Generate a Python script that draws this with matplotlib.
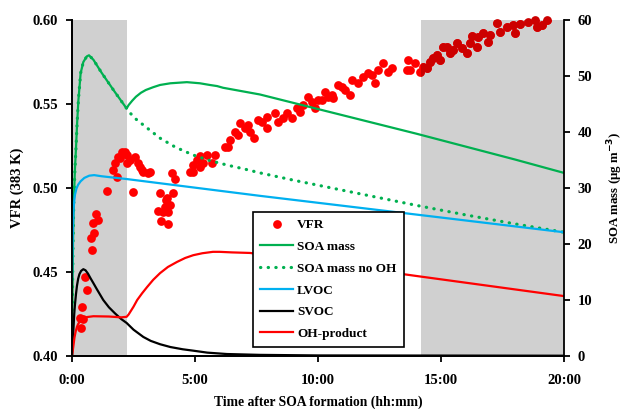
import numpy as np
import matplotlib
matplotlib.use('Agg')
from matplotlib import pyplot as plt
from matplotlib.patches import Rectangle
from matplotlib.ticker import MultipleLocator, FuncFormatter

plt.rcParams['font.family'] = ['Liberation Serif', 'DejaVu Serif']
plt.rcParams['font.weight'] = 'bold'

# shaded periods (hours)
shade = [(0.0, 2.22), (14.2, 20.0)]

# VFR measurements (left axis)
vfr_t = [0.35, 0.33, 0.46, 0.39, 0.60, 0.53, 0.83, 0.76, 0.91, 0.87, 1.07, 0.98, 1.41, 2.47,
         1.75, 1.88, 2.02, 2.15, 2.22, 1.95, 2.36, 2.56, 2.70, 2.83, 2.90, 3.10, 3.17, 2.76, 1.68, 1.82, 2.22,
         3.58, 4.11, 3.86, 3.82, 3.50, 3.70, 3.90, 3.98, 3.78, 3.62, 3.90, 4.07, 4.19,
         4.80, 4.93, 5.07, 5.20, 5.48, 5.81, 5.34, 5.68, 4.92, 5.20,
         6.22, 6.34, 6.63, 6.83, 7.03, 7.24, 7.40, 7.56, 7.93, 7.93, 8.25, 8.37, 8.74, 8.94, 9.15, 9.39,
         9.59, 9.76, 9.88, 10.16, 10.28, 10.57, 6.42, 6.75, 7.15, 7.72, 8.58, 9.27, 10.00, 10.41,
         10.61, 10.81, 11.10, 11.30, 11.38, 11.63, 11.83, 12.03, 12.32, 12.44, 12.64, 13.01, 10.98, 12.20, 12.85,
         13.62, 13.66, 13.74, 13.94, 14.15, 14.27, 14.43, 14.55, 14.67, 14.84, 14.96, 15.08, 15.24, 15.37,
         15.49, 15.65, 15.85, 16.06, 16.18, 16.26, 16.46, 16.50, 16.71, 16.91, 16.99, 17.28, 17.40, 17.68,
         17.93, 18.01, 18.21, 18.54, 18.82, 18.90, 19.11, 19.31]
vfr_v = [0.4165, 0.4224, 0.4218, 0.4293, 0.4393, 0.4472, 0.4631, 0.4701, 0.4734, 0.4793, 0.4810, 0.4843, 0.4982, 0.4978,
         0.5147, 0.5186, 0.5216, 0.5216, 0.5196, 0.5177, 0.5167, 0.5186, 0.5147, 0.5107, 0.5097, 0.5088, 0.5097, 0.5127, 0.5107, 0.5067, 0.5147,
         0.4970, 0.4970, 0.4940, 0.4929, 0.4863, 0.4857, 0.4857, 0.4899, 0.4887, 0.4804, 0.4786, 0.5088, 0.5054,
         0.5097, 0.5137, 0.5167, 0.5190, 0.5196, 0.5196, 0.5147, 0.5147, 0.5097, 0.5127,
         0.5244, 0.5244, 0.5333, 0.5387, 0.5357, 0.5333, 0.5298, 0.5405, 0.5423, 0.5357, 0.5446, 0.5393, 0.5446, 0.5417, 0.5476, 0.5494,
         0.5542, 0.5512, 0.5476, 0.5524, 0.5571, 0.5554, 0.5286, 0.5315, 0.5375, 0.5393, 0.5417, 0.5452, 0.5524, 0.5542,
         0.5536, 0.5613, 0.5583, 0.5554, 0.5643, 0.5625, 0.5661, 0.5685, 0.5625, 0.5702, 0.5744, 0.5714, 0.5601, 0.5673, 0.5690,
         0.5702, 0.5762, 0.5702, 0.5744, 0.5690, 0.5720, 0.5714, 0.5750, 0.5774, 0.5792, 0.5762, 0.5839, 0.5839, 0.5804,
         0.5821, 0.5863, 0.5833, 0.5804, 0.5863, 0.5905, 0.5839, 0.5899, 0.5923, 0.5869, 0.5911, 0.5982, 0.5929, 0.5958,
         0.5970, 0.5923, 0.5976, 0.5988, 0.6000, 0.5958, 0.5970, 0.6000]

# model curves (right axis, ug m-3)
soa_t = [0, 0.02, 0.04, 0.06, 0.08, 0.12, 0.16, 0.21, 0.26, 0.35, 0.46, 0.6, 0.69, 0.87, 1.2, 1.7, 2.22,
         2.3, 2.45, 2.6, 2.8, 3.0, 3.3, 3.58, 4.0, 4.67, 5.2, 5.6, 5.9, 6.14, 7.64,
         10, 12, 14, 16, 18, 20]
soa_v = [0, 12.0, 20.0, 25.0, 28.5, 33.5, 37.0, 41.8, 45.7, 50.5, 52.5, 53.5, 53.7, 52.9, 50.6, 47.4, 44.2,
         44.8, 45.6, 46.3, 47.0, 47.5, 48.0, 48.4, 48.7, 48.9, 48.7, 48.4, 48.2, 47.9, 46.7,
         44.1, 41.9, 39.7, 37.4, 35.1, 32.7]

nooh_t = [0, 0.02, 0.04, 0.06, 0.08, 0.12, 0.16, 0.21, 0.26, 0.35, 0.46, 0.6, 0.69, 0.87, 1.2, 1.7, 2.22,
          2.36, 2.6, 3.0, 3.58, 4.2, 4.92, 5.6, 6.3, 7.0, 7.64, 9, 10, 12, 14, 16, 18, 20]
nooh_v = [0, 12.0, 20.0, 25.0, 28.5, 33.5, 37.0, 41.8, 45.7, 50.5, 52.5, 53.5, 53.7, 52.9, 50.6, 47.4, 44.2,
          43.4, 42.3, 40.9, 38.9, 37.3, 35.9, 34.9, 34.1, 33.4, 32.7, 31.4, 30.5, 28.7, 26.9, 25.2, 23.6, 22.1]

lvoc_t = [0, 0.02, 0.04, 0.06, 0.09, 0.12, 0.18, 0.25, 0.35, 0.5, 0.7, 0.9, 1.2, 1.6, 2.22, 7.64, 20]
lvoc_v = [13.6, 19.0, 23.5, 26.0, 27.7, 28.8, 29.9, 30.6, 31.2, 31.8, 32.2, 32.3, 32.1, 31.9, 31.6, 28.6, 22.1]

svoc_t = [0, 0.03, 0.06, 0.09, 0.12, 0.16, 0.2, 0.25, 0.3, 0.37, 0.46, 0.55, 0.65, 0.75, 0.87, 1.0,
          1.27, 1.5, 1.75, 2.0, 2.22, 2.5, 2.9, 3.2, 3.58, 4.0, 4.5, 4.93, 5.5, 6.3, 7.64, 10, 20]
svoc_v = [0, 2.5, 5.0, 7.5, 9.2, 11.0, 12.5, 13.8, 14.6, 15.2, 15.5, 15.3, 14.7, 13.9, 13.0, 12.0,
          10.0, 8.7, 7.6, 6.6, 5.9, 4.7, 3.4, 2.7, 2.1, 1.6, 1.2, 0.95, 0.6, 0.35, 0.2, 0.1, 0.05]

oh_t = [0, 0.05, 0.1, 0.15, 0.2, 0.26, 0.35, 0.46, 0.6, 0.87, 1.5, 2.0, 2.22, 2.3, 2.4, 2.5, 2.65,
        2.85, 3.05, 3.3, 3.58, 3.9, 4.27, 4.6, 4.93, 5.3, 5.73, 6.0, 6.5, 7.24, 14.15, 20]
oh_v = [0, 1.6, 3.3, 4.4, 5.2, 5.8, 6.3, 6.7, 6.95, 7.1, 7.05, 6.9, 7.0, 7.4, 8.1, 8.8, 10.0,
        11.2, 12.3, 13.6, 14.8, 15.9, 16.8, 17.5, 18.0, 18.35, 18.6, 18.6, 18.5, 18.4, 14.2, 10.7]

fig = plt.figure(figsize=(6.29, 4.09), dpi=100)
ax = fig.add_axes([0.1145, 0.1296, 0.782, 0.8215])
ax2 = ax.twinx()

for a, b in shade:
    ax.axvspan(a, b, color='#d0d0d0', lw=0, zorder=0)

ms = 6.3
ax.plot(vfr_t, vfr_v, 'o', color='#ff0000', ms=ms, mec='none', zorder=2)
# points inside the late shaded period look darker
dark, = ax.plot(vfr_t, vfr_v, 'o', color='#cc0000', ms=ms, mec='none', zorder=3)
clip = Rectangle((shade[1][0], 0.3), 10, 0.5, transform=ax.transData)
dark.set_clip_path(clip)

lw = 1.6
dots = (0, (0.1, 2.3))
ax2.plot(soa_t, soa_v, color='#00b050', lw=lw)
ax2.plot(nooh_t, nooh_v, color='#00b050', lw=2.3, ls=dots, dash_capstyle='round')
ax2.plot(lvoc_t, lvoc_v, color='#00b0f0', lw=lw)
ax2.plot(svoc_t, svoc_v, color='black', lw=lw)
ax2.plot(oh_t, oh_v, color='#ff0000', lw=lw)

ax.set_xlim(0, 20)
ax.set_ylim(0.40, 0.60)
ax2.set_ylim(0, 60)
ax.xaxis.set_major_locator(MultipleLocator(5))
ax.xaxis.set_major_formatter(FuncFormatter(lambda h, p: f'{int(h)}:{int(round((h % 1) * 60)):02d}'))
ax.yaxis.set_major_locator(MultipleLocator(0.05))
ax.yaxis.set_major_formatter(FuncFormatter(lambda v, p: f'{v:.2f}'))
ax2.yaxis.set_major_locator(MultipleLocator(10))

for a in (ax, ax2):
    a.spines['top'].set_visible(False)
    for s in a.spines.values():
        s.set_linewidth(1.3)
    a.tick_params(direction='out', length=4, width=1.3, labelsize=10.5, pad=6)
ax.tick_params(axis='x', pad=9)
ax.spines['right'].set_visible(False)

ax.set_xlabel('Time after SOA formation (hh:mm)', fontsize=9.8, fontweight='bold', labelpad=6)
ax.set_ylabel('VFR (383 K)', fontsize=10.5, fontweight='bold', labelpad=6)
ax2.set_ylabel('SOA mass (µg m$^{\\mathbf{-3}}$)', fontsize=9.3, fontweight='bold', labelpad=9)

handles = [
    plt.Line2D([], [], ls='none', marker='o', color='#ff0000', ms=ms, mec='none'),
    plt.Line2D([], [], color='#00b050', lw=lw),
    plt.Line2D([], [], color='#00b050', lw=2.3, ls=dots, dash_capstyle='round'),
    plt.Line2D([], [], color='#00b0f0', lw=lw),
    plt.Line2D([], [], color='black', lw=lw),
    plt.Line2D([], [], color='#ff0000', lw=lw),
]
labels = ['VFR', 'SOA mass', 'SOA mass no OH', 'LVOC', 'SVOC', 'OH-product']
leg = ax2.legend(handles, labels, loc='upper left', bbox_to_anchor=(0.368, 0.429), borderaxespad=0,
                 fancybox=False, framealpha=1, edgecolor='black', fontsize=9.5, handlelength=2.5,
                 labelspacing=0.72, handletextpad=0.3, borderpad=0.55, numpoints=1)
leg.get_frame().set_linewidth(1.2)

fig.savefig('out.png', dpi=100)
